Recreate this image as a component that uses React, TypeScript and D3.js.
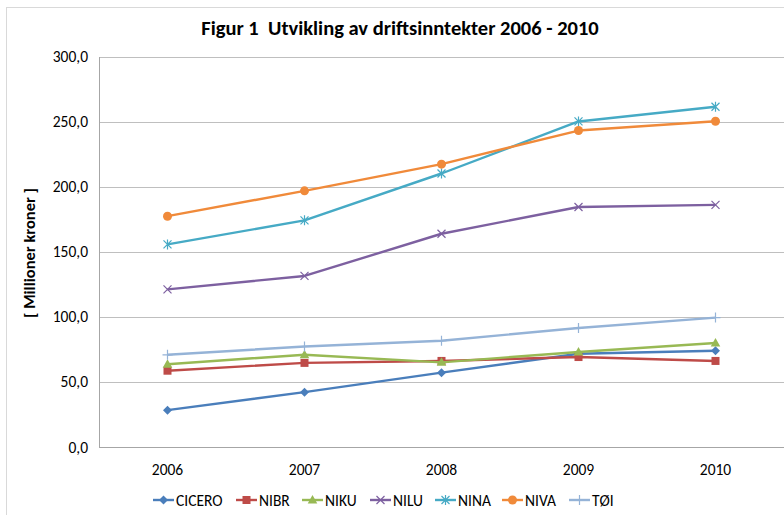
import React from "react";
import * as d3 from "d3";

const years = ["2006", "2007", "2008", "2009", "2010"];
const yTicks = [0, 50, 100, 150, 200, 250, 300];
const seriesNames = ["CICERO", "NIBR", "NIKU", "NILU", "NINA", "NIVA", "TØI"];
const cicero = [28.7, 42.5, 57.5, 72, 74.3];
const nibr = [59, 65, 66.5, 69.5, 66.5];
const niku = [64, 71.3, 65.4, 73.4, 80.3];
const nilu = [121.5, 131.8, 164.2, 184.8, 186.4];
const nina = [156, 174.5, 210.5, 250.5, 261.8];
const niva = [177.7, 197.2, 217.7, 243.5, 250.6];
const toi = [71.2, 77.6, 82, 91.8, 99.8];
const colors = ["#4A7EBB", "#BE4B48", "#98B954", "#7D60A0", "#46AAC5", "#F08A3A", "#95B3D7"];
const markers = ["diamond", "square", "triangle", "x", "star", "circle", "plus"];

const FONT = "Carlito, Calibri, 'Liberation Sans', sans-serif";

function Marker({ type, x, y, color }: { type: string; x: number; y: number; color: string }) {
  const s = 4;
  switch (type) {
    case "diamond":
      return <path d={`M${x},${y - 4.5}L${x + 4.5},${y}L${x},${y + 4.5}L${x - 4.5},${y}Z`} fill={color} />;
    case "square":
      return <rect x={x - 4} y={y - 4} width={8} height={8} fill={color} />;
    case "triangle":
      return <path d={`M${x},${y - 5}L${x + 4.8},${y + 3.5}L${x - 4.8},${y + 3.5}Z`} fill={color} />;
    case "x":
      return <path d={`M${x - s},${y - s}L${x + s},${y + s}M${x - s},${y + s}L${x + s},${y - s}`} stroke={color} strokeWidth={1.2} fill="none" />;
    case "star":
      return <path d={`M${x - s},${y - s}L${x + s},${y + s}M${x - s},${y + s}L${x + s},${y - s}M${x},${y - s - 1}L${x},${y + s + 1}`} stroke={color} strokeWidth={1.2} fill="none" />;
    case "circle":
      return <circle cx={x} cy={y} r={4.5} fill={color} />;
    case "plus":
      return <path d={`M${x - s - 1},${y}L${x + s + 1},${y}M${x},${y - s - 1}L${x},${y + s + 1}`} stroke={color} strokeWidth={1.2} fill="none" />;
  }
  return null;
}

export default function App() {
  const W = 784, H = 515;
  const left = 99, right = 784, top = 57, bottom = 447.5;
  const data = [cicero, nibr, niku, nilu, nina, niva, toi];
  const x = d3.scaleBand().domain(years).range([left, left + 5 * 137]);
  const y = d3.scaleLinear().domain([0, 300]).range([bottom, top]);
  const cx = (yr: string) => (x(yr) as number) + x.bandwidth() / 2;
  const line = d3.line<number>().x((_, i) => cx(years[i])).y((v) => y(v));
  const fmt = (v: number) => v.toFixed(1).replace(".", ",");
  const legendX = [153, 236, 302, 370, 435, 502, 569];

  return (
    <svg width={W} height={H} style={{ position: "absolute", left: 0, top: 0, display: "block" }} fontFamily={FONT}>
      <rect x={0} y={0} width={W} height={H} fill="#fff" />
      <rect x={6.5} y={7.5} width={W + 10} height={H + 10} fill="none" stroke="#D9D9D9" strokeWidth={1} />
      <text x={400} y={35} textAnchor="middle" fontSize={20.5} fontWeight="bold" fill="#000" style={{ whiteSpace: "pre" }}>
        {"Figur 1  Utvikling av driftsinntekter 2006 - 2010"}
      </text>
      {yTicks.map((t) => (
        <g key={t}>
          {t > 0 && <line x1={left} x2={right} y1={Math.round(y(t)) + 0.5} y2={Math.round(y(t)) + 0.5} stroke="#BFBFBF" strokeWidth={1.2} />}
          <text x={88} y={y(t) + 5} textAnchor="end" fontSize={15.5} fill="#000">{fmt(t)}</text>
        </g>
      ))}
      <line x1={left + 0.5} x2={left + 0.5} y1={top} y2={bottom} stroke="#A6A6A6" strokeWidth={1} />
      <line x1={left} x2={right} y1={bottom} y2={bottom} stroke="#A6A6A6" strokeWidth={1.2} />
      {years.map((yr) => (
        <text key={yr} x={cx(yr)} y={475} textAnchor="middle" fontSize={15.5} fill="#000">{yr}</text>
      ))}
      <text transform={`translate(35,253) rotate(-90)`} textAnchor="middle" fontSize={16.5} fontWeight="bold" fill="#000" style={{ whiteSpace: "pre" }}>
        {"[ Millioner kroner ]"}
      </text>
      {data.map((vals, si) => (
        <g key={si}>
          <path d={line(vals) as string} fill="none" stroke={colors[si]} strokeWidth={2.4} strokeLinejoin="round" />
          {vals.map((v, i) => (
            <Marker key={i} type={markers[si]} x={cx(years[i])} y={y(v)} color={colors[si]} />
          ))}
        </g>
      ))}
      {seriesNames.map((n, si) => (
        <g key={n}>
          <line x1={legendX[si]} x2={legendX[si] + 21} y1={500} y2={500} stroke={colors[si]} strokeWidth={2.4} />
          <Marker type={markers[si]} x={legendX[si] + 10.5} y={500} color={colors[si]} />
          <text x={legendX[si] + 23} y={505.5} fontSize={15.5} fill="#000">{n}</text>
        </g>
      ))}
    </svg>
  );
}
